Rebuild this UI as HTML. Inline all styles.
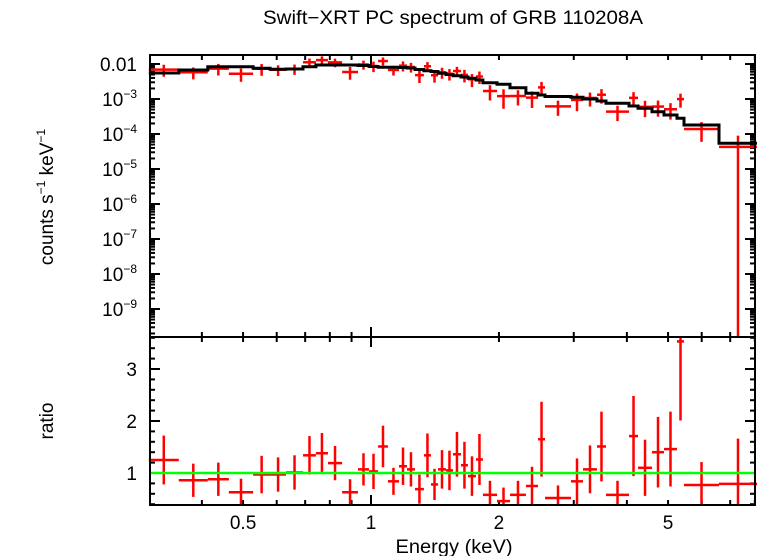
<!DOCTYPE html>
<html><head><meta charset="utf-8"><style>
html,body{margin:0;padding:0;background:#fff;}
svg{display:block;font-family:"Liberation Sans",sans-serif;}
</style></head><body>
<svg id="chart" width="758" height="556" viewBox="0 0 758 556">
<text x="453" y="24" text-anchor="middle" font-size="19" textLength="380" lengthAdjust="spacingAndGlyphs">Swift−XRT PC spectrum of GRB 110208A</text>
<text transform="translate(53,197) rotate(-90)" text-anchor="middle" font-size="19">counts s<tspan font-size="12" dy="-8">−1</tspan><tspan dy="8"> keV</tspan><tspan font-size="12" dy="-8">−1</tspan></text>
<text transform="translate(53,421) rotate(-90)" text-anchor="middle" font-size="19">ratio</text>
<text x="454" y="553" text-anchor="middle" font-size="19" textLength="117" lengthAdjust="spacingAndGlyphs">Energy (keV)</text>
<g id="g"></g>
</svg>
<script>
const eEdges=[0.300,0.353,0.413,0.463,0.528,0.579,0.631,0.692,0.742,0.792,0.855,0.932,0.989,1.039,1.096,1.164,1.215,1.269,1.332,1.384,1.438,1.501,1.559,1.628,1.691,1.766,1.834,1.979,2.124,2.315,2.472,2.567,2.955,3.154,3.402,3.572,4.047,4.249,4.584,4.891,5.248,5.451,6.590,8.094];
const model=[5.53e-3,6.74e-3,8.37e-3,8.37e-3,7.53e-3,7.06e-3,7.20e-3,8.37e-3,9.36e-3,9.36e-3,9.36e-3,9.06e-3,8.49e-3,8.05e-3,8.05e-3,7.94e-3,7.69e-3,6.97e-3,6.44e-3,6.11e-3,5.42e-3,5.01e-3,4.63e-3,4.25e-3,3.90e-3,3.49e-3,2.92e-3,2.63e-3,2.10e-3,1.46e-3,1.30e-3,1.18e-3,1.12e-3,1.00e-3,8.77e-4,7.54e-4,6.31e-4,5.42e-4,4.34e-4,3.49e-4,2.81e-4,1.81e-4,5.42e-5];
const ratio=[1.25,0.86,0.88,0.63,0.97,0.97,1.01,1.34,1.38,1.19,0.63,1.07,1.03,1.51,0.84,1.13,1.07,0.69,1.34,0.78,1.07,1.05,1.36,1.15,0.94,1.26,0.58,0.46,0.58,0.75,1.65,0.52,0.84,1.07,1.51,0.58,1.71,1.10,1.40,1.46,3.53,0.77,0.79];
const ratioErr=[0.47,0.32,0.32,0.26,0.36,0.33,0.33,0.37,0.39,0.33,0.25,0.31,0.34,0.40,0.26,0.36,0.33,0.28,0.42,0.30,0.37,0.38,0.43,0.45,0.38,0.49,0.27,0.26,0.27,0.37,0.72,0.24,0.44,0.46,0.67,0.27,0.77,0.54,0.68,0.72,1.52,0.44,0.87];
const yTopTicks=["0.01","10","10","10","10","10","10","10"];
const yTopExp=[null,"−3","−4","−5","−6","−7","−8","−9"];
const ratioTicks=[1,2,3];
const xLabels=[0.5,1,2,5];

const L=150,R=755,T1=55,B1=337,B2=505;
const xS=e=>371+425*Math.log10(e);
const yT=v=>64-35*(Math.log10(v)+2);
const yB=r=>473-52*(r-1);
const g=document.getElementById('g');
const NS='http://www.w3.org/2000/svg';
function mk(tag,at,parent){const el=document.createElementNS(NS,tag);for(const k in at)el.setAttribute(k,at[k]);(parent||g).appendChild(el);return el;}
function ln(x1,y1,x2,y2,c,w,p){return mk('line',{x1,y1,x2,y2,stroke:c,'stroke-width':w},p);}
const clampT=y=>Math.max(T1,Math.min(B1,y));
const clampB=y=>Math.max(B1,Math.min(B2,y));

const tg=mk('g',{});


const xt=[0.4,0.5,0.6,0.7,0.8,0.9,1,2,3,4,5,6,7,8];
xt.forEach(v=>{const x=xS(v),len=v===1?10:5;
 ln(x,T1,x,T1+len,'#000',2,tg);ln(x,B1-len,x,B1+len,'#000',2,tg);ln(x,B2,x,B2-len,'#000',2,tg);});
for(let d=-10;d<=-2;d++){for(let m=1;m<10;m++){const v=m*Math.pow(10,d);const y=yT(v);if(y<T1||y>B1)continue;const len=m===1?10:5;
 ln(L,y,L+len,y,'#000',2,tg);ln(R,y,R-len,y,'#000',2,tg);}}
for(let r=0.4;r<=3.61;r+=0.2){const y=yB(r);const maj=Math.abs(r-Math.round(r))<0.01;const len=maj?10:5;
 ln(L,y,L+len,y,'#000',2,tg);ln(R,y,R-len,y,'#000',2,tg);}

yTopTicks.forEach((t,i)=>{const y=yT(Math.pow(10,-2-i));
 const tx=mk('text',{x:137,y:y+7,'text-anchor':'end','font-size':19});
 
 
 if(yTopExp[i]){tx.textContent=t;const s=mk('tspan',{dy:-8,'font-size':12},tx);s.textContent=yTopExp[i];}else tx.textContent=t;});
ratioTicks.forEach(r=>{const tx=mk('text',{x:137,y:yB(r)+7,'text-anchor':'end','font-size':19});
 
 
 tx.textContent=r;});
xLabels.forEach(v=>{const tx=mk('text',{x:xS(v),y:529,'text-anchor':'middle','font-size':19});
 
 
 tx.textContent=v;});

const dg=mk('g',{});


const rg=mk('g',{});


for(let i=0;i<model.length;i++){
 const x1=xS(eEdges[i]),x2=xS(eEdges[i+1]);const xc=xS(Math.sqrt(eEdges[i]*eEdges[i+1]));
 const v=model[i]*ratio[i],er=model[i]*ratioErr[i];
 const y=yT(v);const yu=clampT(yT(v+er));const yl=(v-er)>0?clampT(yT(v-er)):B1;
 ln(x1,y,x2,y,'#f00',2.5,dg);ln(xc,yu,xc,yl,'#f00',2.5,dg);
 const r=ratio[i],re=ratioErr[i];const yr=yB(r);
 ln(x1,yr,x2,yr,'#f00',2.5,rg);ln(xc,clampB(yB(r+re)),xc,clampB(yB(r-re)),'#f00',2.5,rg);
}
let d='';
for(let i=0;i<model.length;i++){const x1=xS(eEdges[i]),x2=xS(eEdges[i+1]),y=yT(model[i]);
 d+=(i===0?'M':'L')+x1.toFixed(1)+','+y.toFixed(1)+'L'+x2.toFixed(1)+','+y.toFixed(1);}
const mp=mk('path',{d,fill:'none',stroke:'#000','stroke-width':3});


const gl=ln(L,yB(1),R,yB(1),'#0f0',2.5);


const f1=mk('rect',{x:L,y:T1,width:R-L,height:B1-T1,fill:'none',stroke:'#000','stroke-width':2});


const f2=mk('rect',{x:L,y:B1,width:R-L,height:B2-B1,fill:'none',stroke:'#000','stroke-width':2});


</script>
</body></html>
